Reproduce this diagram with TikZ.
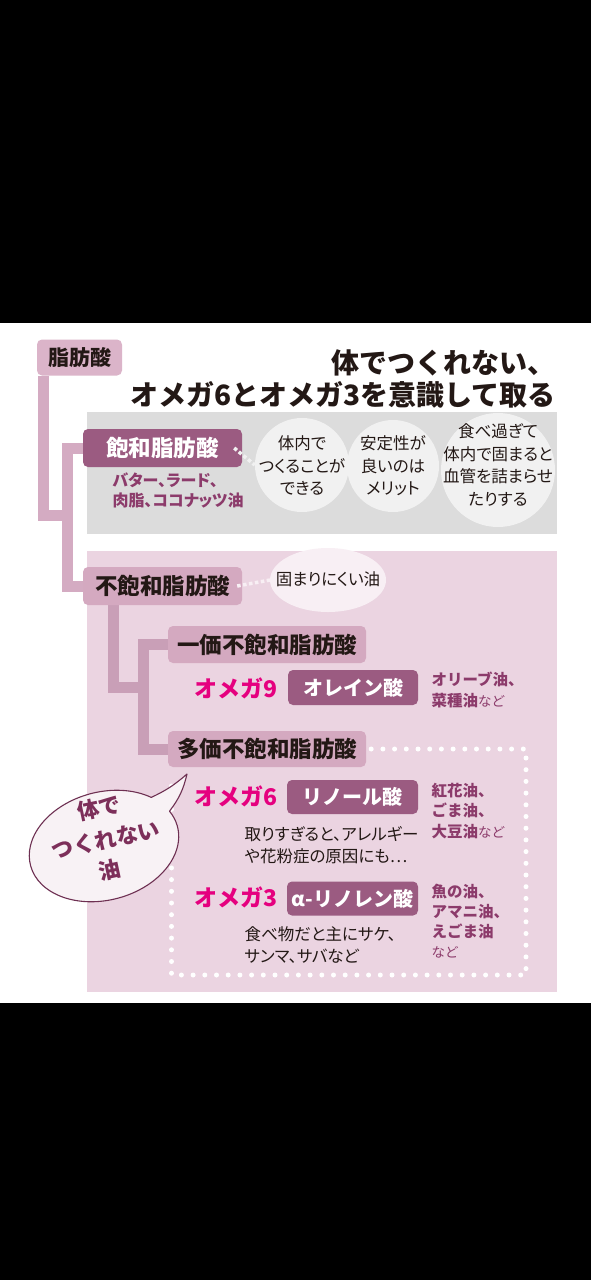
\documentclass[tikz,border=0pt]{standalone}
\usepackage{fontspec}
\setmainfont{Noto Sans CJK JP}
\newfontfamily\pjp[RawFeature=+palt]{Noto Sans CJK JP}
\definecolor{ink}{HTML}{231815}
\definecolor{graypanel}{HTML}{DCDCDC}
\definecolor{pinkpanel}{HTML}{EBD4E1}
\definecolor{circfill}{HTML}{F1F1F1}
\definecolor{ellfill}{HTML}{F8EFF4}
\definecolor{boxlight}{HTML}{DBB4C9}
\definecolor{boxmid}{HTML}{D4A9C0}
\definecolor{barone}{HTML}{D4ABC2}
\definecolor{bartwo}{HTML}{C99FB7}
\definecolor{boxdark}{HTML}{9B5B81}
\definecolor{omega}{HTML}{E5007F}
\definecolor{oil}{HTML}{8C3B6B}
\definecolor{bubline}{HTML}{6E3052}
\definecolor{bubfill}{HTML}{F8F2F5}
\definecolor{bubtext}{HTML}{7D2F5A}
\newcommand\myfs[2]{\fontsize{#1}{#2}\selectfont}
\begin{document}
\begin{tikzpicture}[x=1pt,y=-1pt,
  lbox/.style={rounded corners=5pt, inner sep=0pt, text=ink, font=\myfs{22.5}{26}\bfseries},
  dbox/.style={rounded corners=5pt, inner sep=0pt, fill=boxdark, text=white, font=\myfs{20}{24}\bfseries},
  bar/.style={line width=11pt, line join=miter, line cap=butt},
  circ/.style={circle, fill=circfill, inner sep=0pt},
  ctext/.style={align=center, text=ink, font=\pjp\myfs{16.5}{22.5}},
  note/.style={align=left, anchor=west, text=ink, font=\pjp\myfs{16.5}{22}},
  omg/.style={text=omega, font=\myfs{23}{26}\bfseries},
  oiltext/.style={align=left, anchor=west, text=oil, font=\myfs{15.5}{20.5}\bfseries},
  bubword/.style={rotate=12, inner sep=0pt, text=bubtext, font=\myfs{22}{24}\bfseries},
  wdots/.style={white, line width=5pt, line cap=round, dash pattern=on 0pt off 11.7pt},
  sdots/.style={line width=3.5pt, dash pattern=on 3.5pt off 2.5pt}]
\useasboundingbox (0,0) rectangle (591,1280);
\fill[black] (0,0) rectangle (591,1280);
\fill[white] (0,323) rectangle (591,1003);
\fill[graypanel] (87,412) rectangle (557,534);
\fill[pinkpanel] (87,551) rectangle (557,992);

% title
\node[anchor=east, inner sep=0pt, text=ink, font=\myfs{28}{30}\bfseries] (t1) at (556,363) {体でつくれない、};
\node[anchor=east, inner sep=0pt, text=ink, font=\myfs{28}{30}\bfseries] (t2) at (556,394.5) {オメガ6とオメガ3を意識して取る};

% box positions (drawn later on top of connectors)
\path (79.5,357.5) node[minimum width=85pt, minimum height=36pt] (root) {};
\path (162.5,448) node[minimum width=159pt, minimum height=38pt] (sat) {};
\path (162.5,586) node[minimum width=159pt, minimum height=38pt] (unsat) {};
\path (267,644.5) node[minimum width=198pt, minimum height=37pt] (mono) {};
\path (267,749) node[minimum width=198pt, minimum height=36pt] (poly) {};

% connectors
\coordinate (j1) at (67.5,515);
\coordinate (j2) at (143.5,687);
\draw[bar, barone] ([xshift=7pt]root.south west) |- (j1);
\draw[bar, barone] (sat.west) -| (j1) |- (unsat.west);
\draw[bar, bartwo] ([xshift=31pt]unsat.south west) |- (j2);
\draw[bar, bartwo] (mono.west) -| (j2) |- (poly.west);

% boxes
\node[lbox, fill=boxlight, minimum width=85pt, minimum height=36pt, font=\myfs{21}{24}\bfseries] (rootb) at (root) {脂肪酸};
\node[dbox, minimum width=159pt, minimum height=38pt, font=\myfs{22.5}{26}\bfseries] (satb) at (sat) {飽和脂肪酸};
\node[lbox, fill=boxmid, minimum width=159pt, minimum height=38pt] (unsatb) at (unsat) {不飽和脂肪酸};
\node[lbox, fill=boxmid, minimum width=198pt, minimum height=37pt] (monob) at (mono) {一価不飽和脂肪酸};
\node[lbox, fill=boxmid, minimum width=198pt, minimum height=36pt] (polyb) at (poly) {多価不飽和脂肪酸};

% saturated fat examples
\node[oiltext, font=\pjp\myfs{16}{19.5}\bfseries] (satex) at (109,490.5) {バター、ラード、\\肉脂、ココナッツ油};

% circles
\node[circ, minimum size=94pt] (c1) at (302,465) {};
\node[circ, minimum size=92pt] (c2) at (393,466) {};
\node[circ, minimum size=114pt] (c3) at (498,470) {};
\node[ctext] (c1t) at (302,465.5) {体内で\\つくることが\\できる};
\node[ctext] (c2t) at (393,466) {安定性が\\良いのは\\メリット};
\node[ctext] (c3t) at (498,465) {食べ過ぎて\\体内で固まると\\血管を詰まらせ\\たりする};
\draw[sdots, circfill] ([xshift=-8pt]satb.east) -- (c1.west);

% unsaturated note ellipse
\fill[ellfill] (328,580) ellipse [x radius=58pt, y radius=32pt];
\coordinate (ell) at (270,580);
\node[ctext, font=\pjp\myfs{16.5}{20}] (ellt) at (328,579) {固まりにくい油};
\draw[sdots, ellfill] ([xshift=-5pt]unsatb.east) -- (ell);

% dotted frame
\coordinate (fr1) at (526,749);
\coordinate (fr2) at (526,975);
\coordinate (fr3) at (171.5,975);
\coordinate (fr4) at (171.5,777);
\draw[wdots] ([xshift=5pt]polyb.east) -- (fr1) -- (fr2) -- (fr3) -- (fr4);

% omega 9
\node[omg] (o9) at (236.5,688) {オメガ9};
\node[dbox, minimum width=130pt, minimum height=35pt] (olein) at (353,687.5) {オレイン酸};
\node[oiltext] (o9oil) at (428,690) {オリーブ油、\\菜種油{\mdseries\myfs{13.5}{20.5}など}};

% omega 6
\node[omg] (o6) at (236.5,796) {オメガ6};
\node[dbox, minimum width=131pt, minimum height=34pt] (linol) at (352.5,797) {リノール酸};
\node[oiltext] (o6oil) at (428,811) {紅花油、\\ごま油、\\大豆油{\mdseries\myfs{13.5}{20.5}など}};
\node[note] (o6note) at (241,845) {取りすぎると、アレルギー\\や花粉症の原因にも…};

% omega 3
\node[omg] (o3) at (236.5,897) {オメガ3};
\node[dbox, minimum width=131pt, minimum height=34pt] (alin) at (352.5,898.5) {α-リノレン酸};
\node[oiltext, font=\myfs{15.5}{20}\bfseries] (o3oil) at (428,921) {魚の油、\\アマニ油、\\えごま油\\{\mdseries\myfs{13.5}{20}など}};
\node[note] (o3note) at (241,945.5) {食べ物だと主にサケ、\\サンマ、サバなど};

% speech bubble
\coordinate (tip) at (187,774);
\begin{scope}[shift={(104,846)}, rotate=15]
  \path (40:76pt and 54pt) coordinate (b1);
  \path (18:76pt and 54pt) coordinate (b2);
  \filldraw[fill=bubfill, draw=bubline, line width=1.1pt, line join=round]
    (b1) arc[start angle=40, end angle=378, x radius=76pt, y radius=54pt]
    to[bend right=12] (tip) to[bend left=8] cycle;
\end{scope}
\node[bubword] (bw1) at (99,808) {体で};
\node[bubword] (bw2) at (106,840) {つくれない};
\node[bubword] (bw3) at (110,870) {油};
\end{tikzpicture}
\end{document}
